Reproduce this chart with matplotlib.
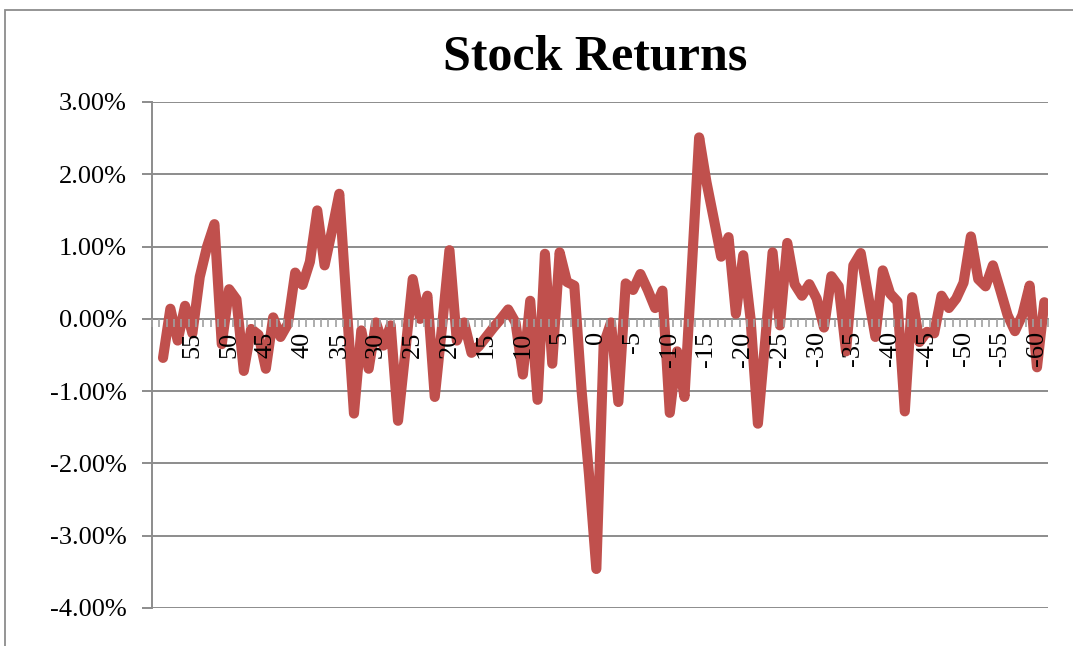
import numpy as np
import matplotlib
matplotlib.use('Agg')
import matplotlib.pyplot as plt
from matplotlib.patches import Rectangle

# event days, first category has no value
days = list(range(60, -62, -1))
returns = [
    np.nan, -0.54, 0.14, -0.30, 0.18, -0.20, 0.58, 1.00, 1.31, -0.35,   # 60..51
    0.41, 0.27, -0.72, -0.14, -0.22, -0.69, 0.02, -0.25, -0.07, 0.64,   # 50..41
    0.47, 0.79, 1.50, 0.74, 1.22, 1.73, 0.20, -1.31, -0.16, -0.69,      # 40..31
    -0.05, -0.37, -0.09, -1.41, -0.45, 0.55, 0.00, 0.32, -1.08, -0.10,  # 30..21
    0.95, -0.30, -0.05, -0.47, -0.38, -0.25, -0.12, 0.00, 0.13, -0.05,  # 20..11
    -0.77, 0.25, -1.12, 0.90, -0.62, 0.92, 0.51, 0.46, -1.00, -2.15,    # 10..1
    -3.46, -0.35, -0.05, -1.15, 0.49, 0.40, 0.62, 0.40, 0.15, 0.39,     # 0..-9
    -1.30, -0.45, -1.08, 0.70, 2.51, 1.89, 1.38, 0.86, 1.13, 0.07,      # -10..-19
    0.88, 0.00, -1.45, -0.30, 0.92, -0.09, 1.05, 0.48, 0.32, 0.48,      # -20..-29
    0.28, -0.12, 0.59, 0.45, -0.45, 0.74, 0.91, 0.33, -0.25, 0.67,      # -30..-39
    0.35, 0.24, -1.28, 0.30, -0.32, -0.18, -0.20, 0.32, 0.15, 0.28,     # -40..-49
    0.50, 1.14, 0.55, 0.45, 0.74, 0.40, 0.05, -0.17, 0.05, 0.46,        # -50..-59
    -0.67, 0.23,                                                        # -60..-61
]
label_days = [d for d in days if d % 5 == 0 and d != 60]
y_ticks = [-4, -3, -2, -1, 0, 1, 2, 3]

plt.rcParams['font.family'] = ['Liberation Serif', 'DejaVu Serif']

W, H = 1073, 646
fig = plt.figure(figsize=(W / 100, H / 100), dpi=100)
ax = fig.add_axes([152 / W, 1 - 608 / H, 896 / W, 506 / H])

x = np.arange(len(days))
ax.plot(x, returns, color='#C0504D', lw=7.3,
        solid_capstyle='round', solid_joinstyle='round', zorder=3)

ax.set_xlim(-0.5, len(days) - 0.5)
ax.set_ylim(-4, 3)
ax.set_yticks(y_ticks)
ax.yaxis.set_major_formatter(lambda v, p: f'{v:.2f}%')
ax.grid(axis='y', color='#8c8c8c', lw=1.4, zorder=1)

# category axis sits on zero, its labels drawn over the line
ax.set_xticks([days.index(d) for d in label_days])
ax.set_xticklabels([str(d) for d in label_days])
ax.set_xticks(np.arange(-0.5, len(days), 1), minor=True)
ax.tick_params(axis='x', which='major', length=0, pad=9, labelsize=19, labelrotation=90)
ax.tick_params(axis='x', which='minor', length=6, width=1.2, color='#a0a0a0', direction='out')
ax.tick_params(axis='y', length=7, width=1.4, color='#8c8c8c', pad=11, labelsize=19)
ax.xaxis.set_zorder(4)
ax.yaxis.set_zorder(1)

ax.spines['top'].set_visible(False)
ax.spines['right'].set_visible(False)
ax.spines['bottom'].set_position(('data', 0))
ax.spines['bottom'].set_color('#8c8c8c')
ax.spines['bottom'].set_linewidth(1.4)
ax.spines['bottom'].set_zorder(1)
ax.spines['left'].set_color('#8c8c8c')
ax.spines['left'].set_linewidth(1.4)

fig.text(595 / W, 1 - 70 / H, 'Stock Returns', ha='center', va='baseline',
         fontsize=36, fontweight='bold')

# chart border (only top and left show in the crop)
fig.patches.append(Rectangle((5 / W, -0.1), 1.2, 1 - 10 / H + 0.1,
                             transform=fig.transFigure, fill=False,
                             edgecolor='#8c8c8c', lw=1.3))

fig.savefig('out.png', dpi=100)
